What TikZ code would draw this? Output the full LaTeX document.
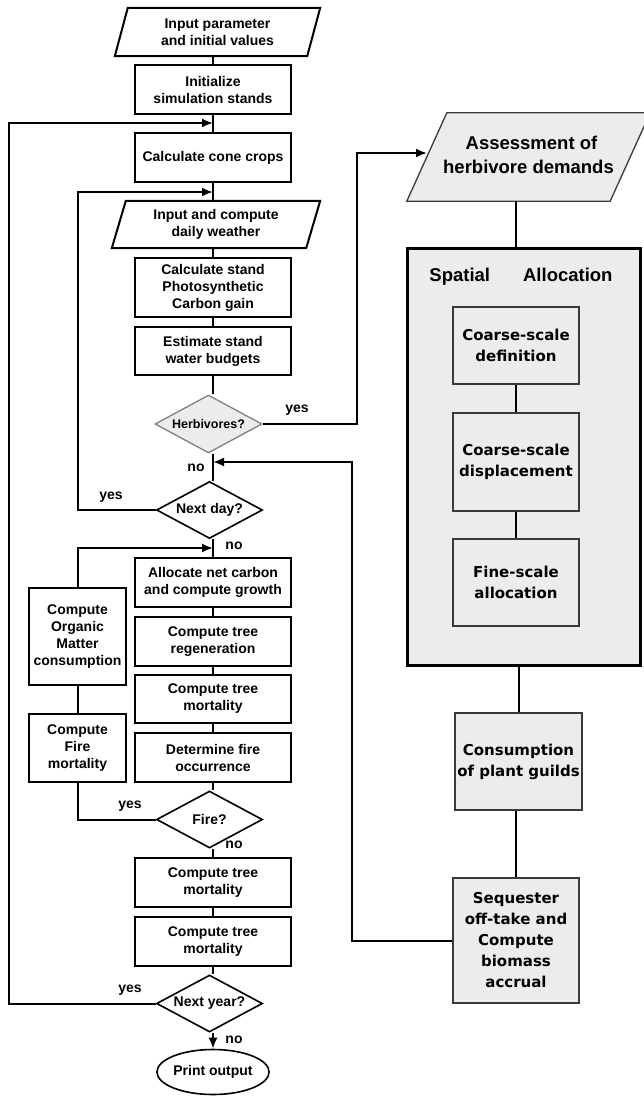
\documentclass[tikz,border=0pt]{standalone}
\usepackage{fontspec}
\setmainfont{Liberation Sans}
\newfontfamily\dvs{DejaVu Sans}
\usetikzlibrary{shapes.geometric,arrows.meta,calc}
\definecolor{pale}{HTML}{ECECEC}
\definecolor{edgegray}{HTML}{3A3A3A}
\definecolor{dmdgray}{HTML}{808080}
\begin{document}
\begin{tikzpicture}[x=1pt,y=-1pt,
  ln/.style={line width=2pt, line join=miter},
  arr/.style={ln, -{Latex[length=11pt,width=9pt]}},
  lfont/.style={font=\bfseries\fontsize{14pt}{17pt}\selectfont},
  box/.style={lfont, draw, line width=1.6pt, minimum width=156pt, align=center, inner sep=0pt},
  sbox/.style={lfont, draw, line width=1.6pt, minimum width=97pt, align=center, inner sep=0pt},
  pbox/.style={lfont, align=center, inner sep=0pt},
  dmd/.style={lfont, draw, diamond, aspect=1.85, line width=1.6pt, inner sep=0pt, minimum width=106pt, minimum height=57pt},
  rbox/.style={draw=edgegray, line width=1.3pt, fill=pale, align=center, inner sep=0pt,
     font=\dvs\bfseries\fontsize{15pt}{21pt}\selectfont},
  lab/.style={lfont, inner sep=0pt},
  big/.style={font=\bfseries\fontsize{18.5pt}{24pt}\selectfont, align=center, inner sep=0pt}
]
\useasboundingbox (0,0) rectangle (644,1097);

% ---------- left main column ----------
\node[pbox, minimum width=205pt, minimum height=48pt] (inp) at (217.5,32) {Input parameter\\and initial values};
\draw[ln] (inp.south west) -- ([xshift=13pt]inp.north west) -- (inp.north east) -- ([xshift=-13pt]inp.south east) -- cycle;

\node[box, minimum height=49pt] (init) at (213,89.5) {Initialize\\simulation stands};
\node[box, minimum height=49pt] (cone) at (213,157.5) {Calculate cone crops};

\node[pbox, minimum width=208pt, minimum height=47pt] (wth) at (216,224.5) {Input and compute\\daily weather};
\draw[ln] (wth.south west) -- ([xshift=14pt]wth.north west) -- (wth.north east) -- ([xshift=-14pt]wth.south east) -- cycle;

\node[box, minimum height=59pt] (calc) at (213,287.5) {Calculate stand\\Photosynthetic\\Carbon gain};
\node[box, minimum height=48pt] (est) at (213,351) {Estimate stand\\water budgets};

\node[dmd, draw=dmdgray, fill=pale, line width=1.3pt, minimum width=107pt, minimum height=58pt,
      font=\bfseries\fontsize{12.5pt}{15pt}\selectfont] (hb) at (208.5,424) {Herbivores?};
\node[dmd] (nd) at (209.5,510) {Next day?};

\node[box, minimum height=49pt] (alloc) at (213,582.5) {Allocate net carbon\\and compute growth};
\node[box, minimum height=49pt] (regen) at (213,641.5) {Compute tree\\regeneration};
\node[box, minimum height=48pt] (mort1) at (213,699) {Compute tree\\mortality};
\node[box, minimum height=49pt] (focc) at (213,757.5) {Determine fire\\occurrence};
\node[dmd] (fire) at (209.5,819.5) {Fire?};
\node[box, minimum height=49pt] (mort2) at (213,882.5) {Compute tree\\mortality};
\node[box, minimum height=49pt] (mort3) at (213,941.5) {Compute tree\\mortality};
\node[dmd] (ny) at (209.5,1003.5) {Next year?};
\node[lfont, draw, ellipse, line width=1.6pt, minimum width=98pt, minimum height=45pt, inner sep=0pt] (prt) at (213,1072) {Print output};

% ---------- left side column ----------
\node[sbox, minimum height=97pt] (orgm) at (77.5,636.5) {Compute\\Organic\\Matter\\consumption};
\node[sbox, minimum height=68pt] (firem) at (77.5,748) {Compute\\Fire\\mortality};

% ---------- right column ----------
\node[pbox, big, minimum width=243pt, minimum height=88pt] (as) at (528.5,157) {};
\draw[draw=edgegray, line width=1.3pt, fill=pale] (as.south west) -- ([xshift=40pt]as.north west) -- (as.north east) -- ([xshift=-40pt]as.south east) -- cycle;
\node[big] at ([yshift=2pt]as.center) {\hspace*{6pt}Assessment of\\herbivore demands};

\node[draw, line width=3pt, fill=pale, minimum width=233pt, minimum height=417pt, inner sep=0pt] (sp) at (523.5,456.5) {};
\node[big] (spt) at (521,277) {Spatial\hspace{33pt}Allocation};
\node[rbox, minimum width=126pt, minimum height=77pt] (cdef) at (516,345.5) {Coarse-scale\\definition};
\node[rbox, minimum width=126pt, minimum height=98pt] (cdis) at (516,462) {Coarse-scale\\displacement};
\node[rbox, minimum width=126pt, minimum height=87pt] (fine) at (516,582.5) {Fine-scale\\allocation};
\node[rbox, minimum width=127pt, minimum height=97pt] (cons) at (518.5,761.5) {Consumption\\of plant guilds};
\node[rbox, minimum width=126pt, minimum height=125pt] (seq) at (516,940.5) {Sequester\\off-take and\\Compute\\biomass\\accrual};

% ---------- coordinates for loop corners ----------
\coordinate (yrc) at (9,123);
\coordinate (dyc) at (78,192);
\coordinate (hbc) at (357,153);
\coordinate (ase) at (427,153);
\coordinate (sqc) at (352,462);
\coordinate (ogc) at (78,548);

% ---------- connectors, main column ----------
\draw[ln] (init.north) -- (init.north |- inp.south);
\draw[ln] (init.south) -- (cone.north);
\draw[ln] (cone.south) -- (cone.south |- wth.north);
\draw[ln] (calc.north |- wth.south) -- (calc.north);
\draw[ln] (calc.south) -- (est.north);
\draw[ln] (est.south) -- (est.south |- hb.north);
\draw[ln] (hb.south -| alloc.north) -- (nd.north -| alloc.north);
\draw[ln] (nd.south -| alloc.north) -- (alloc.north);
\draw[ln] (alloc.south) -- (regen.north);
\draw[ln] (regen.south) -- (mort1.north);
\draw[ln] (mort1.south) -- (focc.north);
\draw[ln] (focc.south) -- (focc.south |- fire.north);
\draw[ln] (fire.south -| mort2.north) -- (mort2.north);
\draw[ln] (mort2.south) -- (mort3.north);
\draw[ln] (mort3.south) -- (mort3.south |- ny.north);
\draw[arr] (ny.south -| prt.north) -- (prt.north);

% loops
\draw[arr] (ny.west) -| (yrc) -- (yrc -| init.south);
\draw[arr] (nd.west) -| (dyc) -- (dyc -| cone.south);
\draw[arr] (hb.east) -| (hbc) -- (ase);
\draw[arr] (seq.west) -| (sqc) -- (sqc -| alloc.north);
\draw[arr] (orgm.north) |- (ogc -| alloc.north);
\draw[ln] (firem.north) -- (orgm.south);
\draw[ln] (fire.west) -| (firem.south);

% right connectors
\draw[ln] (as.south -| cdef.north) -- (sp.north -| cdef.north);
\draw[ln] (cdef.south) -- (cdis.north);
\draw[ln] (cdis.south) -- (fine.north);
\draw[ln] (sp.south -| cons.north) -- (cons.north);
\draw[ln] (cons.south -| seq.north) -- (seq.north);

% labels
\node[lab] at (297,410) {yes};
\node[lab] at (196,468) {no};
\node[lab] at (111,497) {yes};
\node[lab] at (234,546) {no};
\node[lab] at (130,806) {yes};
\node[lab] at (234,845) {no};
\node[lab] at (130,990) {yes};
\node[lab] at (234,1040) {no};
\end{tikzpicture}
\end{document}
